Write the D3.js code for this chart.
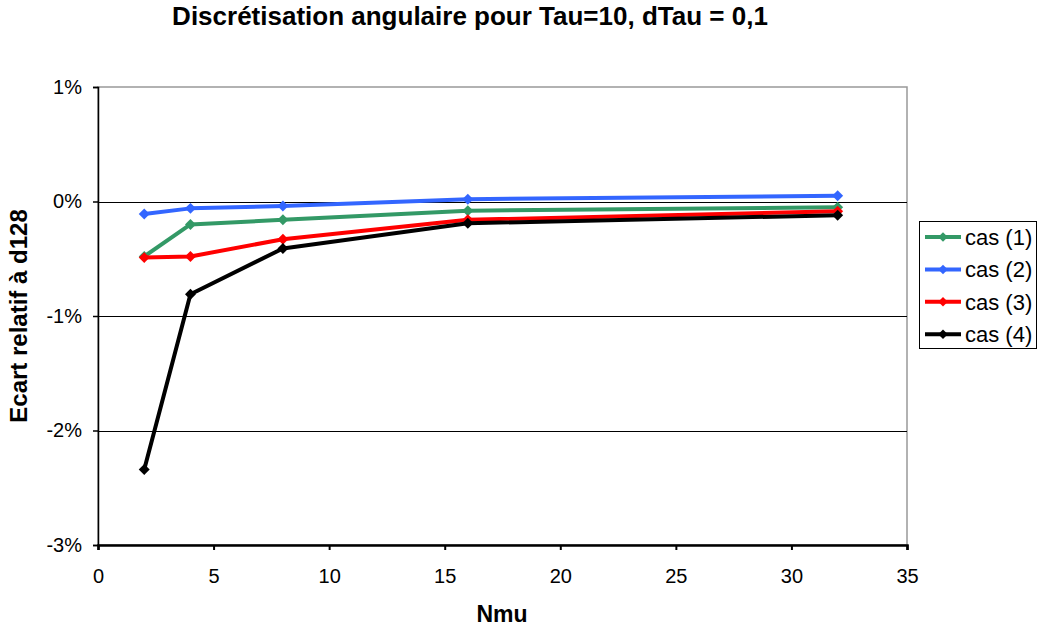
<!DOCTYPE html>
<html><head><meta charset="utf-8">
<script src="https://cdn.jsdelivr.net/npm/d3@7"></script>
<style>body{margin:0;background:#fff}svg{display:block;font-family:"Liberation Sans",Arial,sans-serif}</style>
</head><body><svg id="c" width="1044" height="626"></svg>
<script>
const xValues = [2, 4, 8, 16, 32];
const seriesNames = ["cas (1)", "cas (2)", "cas (3)", "cas (4)"];
const cas1 = [-0.0048, -0.0020, -0.0016, -0.0008, -0.0005];
const cas2 = [-0.0011, -0.0006, -0.0004, 0.0002, 0.0005];
const cas3 = [-0.0049, -0.0048, -0.0033, -0.0016, -0.00085];
const cas4 = [-0.0234, -0.0081, -0.0041, -0.0019, -0.0012];
const seriesColors = ["#339966", "#3366FF", "#FF0000", "#000000"];
const xTicks = [0, 5, 10, 15, 20, 25, 30, 35];
const yTicks = [0.01, 0, -0.01, -0.02, -0.03];
const allSeries = [cas1, cas2, cas3, cas4];

const svg = d3.select("#c");
const L = 98, R = 907, T = 87, B = 545;
const x = d3.scaleLinear().domain([0, 35]).range([L, R]);
const y = d3.scaleLinear().domain([-0.03, 0.01]).range([B, T]);
const FF = "Liberation Sans, Arial, sans-serif";

// title
svg.append("text").attr("x", 470).attr("y", 25).attr("text-anchor", "middle")
  .attr("font-size", 26).attr("font-weight", "bold").text("Discrétisation angulaire pour Tau=10, dTau = 0,1");

// plot border (gray)
svg.append("rect").attr("x", L).attr("y", T).attr("width", R - L).attr("height", B - T)
  .attr("fill", "none").attr("stroke", "#999").attr("stroke-width", 1.5);

// gridlines
svg.append("g").selectAll("line").data(yTicks.filter(d => d > -0.03 && d < 0.01)).join("line")
  .attr("x1", L).attr("x2", R).attr("y1", d => Math.round(y(d)) + 0.5).attr("y2", d => Math.round(y(d)) + 0.5)
  .attr("stroke", "#000").attr("stroke-width", 1);

// y axis
const pct = d => d3.format(".0%")(d).replace("\u2212", "-");
const yAxis = d3.axisLeft(y).tickValues(yTicks).tickFormat(pct).tickSize(5).tickPadding(11);
const gy = svg.append("g").attr("transform", `translate(${L},0)`).call(yAxis);
gy.select(".domain").attr("stroke", "#000").attr("stroke-width", 1.5);
gy.selectAll(".tick line").attr("stroke", "#000").attr("stroke-width", 1.5);
gy.selectAll("text").attr("font-size", 20).attr("fill", "#000").attr("font-family", FF);

// x axis
const xAxis = d3.axisBottom(x).tickValues(xTicks).tickSize(5).tickPadding(19);
const gx = svg.append("g").attr("transform", `translate(0,${B})`).call(xAxis);
gx.select(".domain").attr("stroke", "#000").attr("stroke-width", 2.5);
gx.selectAll(".tick line").attr("stroke", "#000").attr("stroke-width", 2);
gx.selectAll("text").attr("font-size", 20).attr("fill", "#000").attr("font-family", FF);

// axis titles
svg.append("text").attr("x", 502).attr("y", 622).attr("text-anchor", "middle")
  .attr("font-size", 23).attr("font-weight", "bold").text("Nmu");
svg.append("text").attr("transform", `translate(27,${(T + B) / 2}) rotate(-90)`).attr("text-anchor", "middle")
  .attr("font-size", 24).attr("font-weight", "bold").text("Ecart relatif à d128");

const line = d3.line().x((d, i) => x(xValues[i])).y(d => y(d));

allSeries.forEach((s, k) => {
  const g = svg.append("g");
  g.append("path").datum(s).attr("d", line).attr("fill", "none")
    .attr("stroke", seriesColors[k]).attr("stroke-width", 4).attr("stroke-linejoin", "round");
  g.selectAll("path.m").data(s).join("path").attr("class", "m")
    .attr("d", d3.symbol().type(d3.symbolSquare).size(60)).attr("fill", seriesColors[k])
    .attr("transform", (d, i) => `translate(${x(xValues[i])},${y(d)}) rotate(45)`);
});

// legend
const lg = svg.append("g");
lg.append("rect").attr("x", 919.5).attr("y", 221.5).attr("width", 117).attr("height", 127)
  .attr("fill", "#fff").attr("stroke", "#000").attr("stroke-width", 1);
seriesNames.forEach((n, k) => {
  const cy = 237 + k * 32.4;
  lg.append("line").attr("x1", 925).attr("x2", 961).attr("y1", cy).attr("y2", cy)
    .attr("stroke", seriesColors[k]).attr("stroke-width", 4);
  lg.append("path").attr("d", d3.symbol().type(d3.symbolSquare).size(45))
    .attr("transform", `translate(943,${cy}) rotate(45)`).attr("fill", seriesColors[k]);
  lg.append("text").attr("x", 965).attr("y", cy + 8).attr("font-size", 22).text(n);
});
</script></body></html>
